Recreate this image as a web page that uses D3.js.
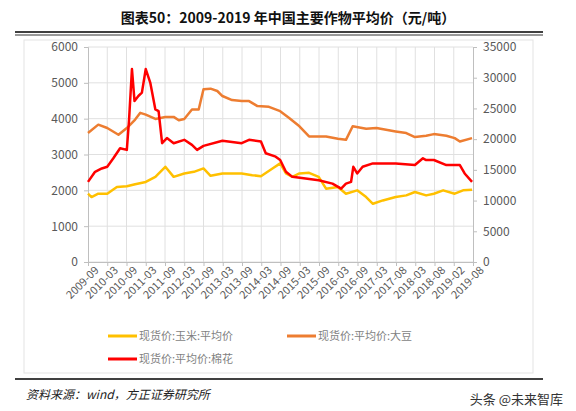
<!DOCTYPE html>
<html>
<head>
<meta charset="utf-8">
<script src="https://cdn.jsdelivr.net/npm/d3@7"></script>
<style>
  body { margin: 0; background: #fff; }
  svg text { font-family: "Noto Sans CJK SC", "Liberation Sans", sans-serif; }
</style>
</head>
<body>
<svg id="chart" width="576" height="411"></svg>
<script>
// x labels, every 6 months (some steps are 5 months in the source)
const tickLabels = ['2009-09', '2010-03', '2010-09', '2011-03', '2011-09', '2012-03', '2012-09', '2013-03',
    '2013-09', '2014-03', '2014-09', '2015-03', '2015-09', '2016-03', '2016-09', '2017-03',
    '2017-08', '2018-03', '2018-08', '2019-02', '2019-08'];

// corn price, left axis (months since 2009-09)
const cornMonths = [0, 1.1, 3.2, 6, 9, 12.1, 14.7, 18, 21, 24.1, 26.7, 30, 33, 36, 38.2, 41.9, 47.9, 51.2, 53.9,
    57.5, 59.9, 61.7, 63.7, 65.9, 68.9, 71.9, 74.2, 77.9, 80.4, 83.9, 86.7, 88.8, 91.9, 95.9, 99.2, 101.9,
    105.4, 107.8, 110.7, 114.3, 116.9, 119.7];
const cornValues = [1906, 1812, 1906, 1906, 2094, 2113, 2170, 2235, 2376, 2658, 2376, 2470, 2517, 2611, 2405,
    2470, 2470, 2423, 2395, 2611, 2752, 2470, 2376, 2470, 2489, 2376, 2047, 2094, 1906, 2000, 1812, 1624,
    1718, 1812, 1859, 1953, 1859, 1906, 2000, 1906, 2000, 2019];

// soybean price, right axis
const soyMonths = [0, 3.2, 6, 9.5, 12.1, 14.7, 16.3, 18, 21, 24.1, 26.7, 28.3, 30, 32.4, 34.5, 36, 38.2, 40.3,
    41.9, 44.9, 47.9, 50.2, 52.8, 56.4, 59.9, 62.7, 65.9, 68.9, 74.2, 77.9, 80.4, 82.5, 86.7, 89.9, 92.9,
    95.9, 99.2, 101.9, 105.4, 107.8, 111.7, 114.3, 115.9, 119.7];
const soyValues = [20990, 22360, 21810, 20710, 21810, 23180, 24280, 24000, 23290, 23620, 23620, 23070, 23290,
    24830, 24830, 28120, 28220, 27840, 27020, 26360, 26200, 26200, 25380, 25260, 24550, 23450, 22090, 20440,
    20440, 20060, 19890, 22090, 21700, 21810, 21540, 21260, 20990, 20330, 20550, 20820, 20550, 20170, 19620,
    20170];

// cotton price, right axis
const cottonMonths = [0, 2.2, 4.3, 6, 7.9, 10, 12.1, 12.8, 13.7, 14.5, 15.7, 16.8, 18, 19.4, 21, 22, 23.1, 24.6,
    26.7, 30, 32.4, 34, 36, 41.9, 47.9, 50.2, 53.9, 55.4, 58.5, 59.9, 61.7, 63.7, 71.9, 76.2, 78.9, 80.4,
    82, 82.7, 83.9, 85.6, 88.8, 95.9, 101.9, 104.4, 105.4, 107.8, 111.7, 115.9, 117.4, 119.7];
const cottonValues = [13040, 14680, 15230, 15500, 16880, 18520, 18250, 23180, 31410, 26200, 27020, 27570,
    31410, 29210, 24830, 24550, 19340, 20170, 19340, 19890, 19070, 18250, 18900, 19730, 19340, 19890, 19620,
    17700, 17150, 16600, 14680, 13860, 13310, 12760, 11940, 12760, 13040, 15500, 14410, 15500, 16050,
    16050, 15780, 16880, 16600, 16600, 15780, 15780, 14410, 13040];

const legendItems = [
    { label: '现货价:玉米:平均价', color: '#ffc000' },
    { label: '现货价:平均价:大豆', color: '#ed7d31' },
    { label: '现货价:平均价:棉花', color: '#ff0000' }
];

const svg = d3.select('#chart');
const plot = { left: 88, right: 473, top: 47, bottom: 262 };

const x = d3.scaleLinear().domain([0, 120]).range([plot.left, plot.right]);
const yLeft = d3.scaleLinear().domain([0, 6000]).range([plot.bottom, plot.top]);
const yRight = d3.scaleLinear().domain([0, 35000]).range([plot.bottom, plot.top]);

// Title and double rule
svg.append('text').attr('x', 288).attr('y', 23).attr('text-anchor', 'middle')
    .attr('font-size', 14).attr('font-weight', 'bold').attr('fill', '#111')
    .text('图表50：2009-2019 年中国主要作物平均价（元/吨）');
svg.append('line').attr('x1', 15).attr('x2', 543).attr('y1', 32).attr('y2', 32).attr('stroke', '#000').attr('stroke-width', 1.5);
svg.append('line').attr('x1', 15).attr('x2', 543).attr('y1', 35).attr('y2', 35).attr('stroke', '#000').attr('stroke-width', 0.8);

// Chart frame
svg.append('rect').attr('x', 24).attr('y', 40).attr('width', 509).attr('height', 333)
    .attr('fill', 'none').attr('stroke', '#e3e3e3');

// Grid
const monthTicks = d3.range(0, 121, 6);
svg.append('g').selectAll('line').data(yLeft.ticks(6)).enter().append('line')
    .attr('x1', plot.left).attr('x2', plot.right)
    .attr('y1', (d) => yLeft(d)).attr('y2', (d) => yLeft(d))
    .attr('stroke', '#e0e0e0');
svg.append('g').selectAll('line').data(monthTicks.slice(1, 20)).enter().append('line')
    .attr('x1', (d) => x(d)).attr('x2', (d) => x(d))
    .attr('y1', plot.top).attr('y2', plot.bottom)
    .attr('stroke', '#e0e0e0');

// Axes
const axisStyle = (g) => {
    g.select('.domain').attr('stroke', '#bfbfbf');
    g.selectAll('.tick line').attr('stroke', '#bfbfbf');
    g.selectAll('.tick text').attr('fill', '#595959').attr('font-size', 12)
        .attr('font-family', 'Liberation Sans, sans-serif');
};
svg.append('g').attr('transform', `translate(${plot.left},0)`)
    .call(d3.axisLeft(yLeft).ticks(6).tickFormat(d3.format('d')).tickSize(4).tickPadding(6)).call(axisStyle);
svg.append('g').attr('transform', `translate(${plot.right},0)`)
    .call(d3.axisRight(yRight).ticks(7).tickFormat(d3.format('d')).tickSize(4).tickPadding(6)).call(axisStyle);
const xAxis = svg.append('g').attr('transform', `translate(0,${plot.bottom})`)
    .call(d3.axisBottom(x).tickValues(monthTicks).tickSize(4).tickFormat((d, i) => tickLabels[i]))
    .call(axisStyle);
xAxis.selectAll('.tick text').attr('font-size', 11).attr('text-anchor', 'end')
    .attr('transform', 'translate(4,2) rotate(-45)').attr('dx', 0).attr('dy', '0.35em').attr('y', 6);

// Lines
const drawLine = (months, values, yScale, color) => {
    const line = d3.line().x((d) => x(d[0])).y((d) => yScale(d[1]));
    svg.append('path').datum(d3.zip(months, values))
        .attr('fill', 'none').attr('stroke', color).attr('stroke-width', 2.5)
        .attr('stroke-linejoin', 'round').attr('d', line);
};
drawLine(cornMonths, cornValues, yLeft, legendItems[0].color);
drawLine(soyMonths, soyValues, yRight, legendItems[1].color);
drawLine(cottonMonths, cottonValues, yRight, legendItems[2].color);

// Legend
const legendPos = [[108, 336], [287, 336], [108, 359]];
legendItems.forEach((item, i) => {
    const [lx, ly] = legendPos[i];
    svg.append('line').attr('x1', lx).attr('x2', lx + 29).attr('y1', ly).attr('y2', ly)
        .attr('stroke', item.color).attr('stroke-width', 3);
    svg.append('text').attr('x', lx + 31).attr('y', ly + 4).attr('font-size', 11)
        .attr('fill', '#7f7f7f').text(item.label);
});

// Source line
svg.append('line').attr('x1', 15).attr('x2', 543).attr('y1', 379).attr('y2', 379).attr('stroke', '#000').attr('stroke-width', 1.5);
svg.append('text').attr('x', 26).attr('y', 399).attr('font-size', 12).attr('font-style', 'italic')
    .attr('fill', '#222').text('资料来源：wind，方正证券研究所');
svg.append('text').attr('x', 563).attr('y', 404).attr('text-anchor', 'end').attr('font-size', 13)
    .attr('fill', '#333').text('头条 @未来智库');
</script>
</body>
</html>
